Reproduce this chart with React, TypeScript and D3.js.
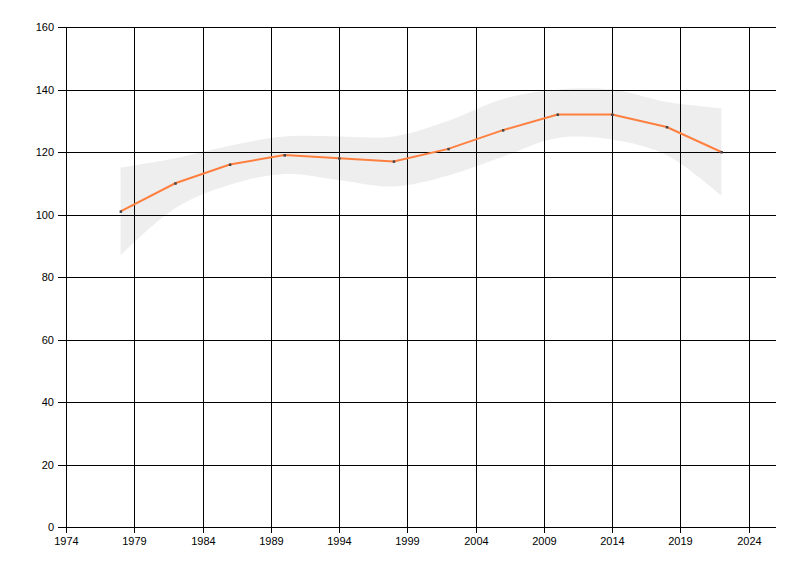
import React from "react";
import * as d3 from "d3";

const years = [1978, 1982, 1986, 1990, 1994, 1998, 2002, 2006, 2010, 2014, 2018, 2022];
const values = [101, 110, 116, 119, 118, 117, 121, 127, 132, 132, 128, 120];
const upper = [115, 118, 122, 125, 125, 125, 130, 137, 140, 140, 136, 134];
const lower = [87, 102, 109.5, 113, 111, 109, 112.5, 118.5, 124.5, 124, 119, 106];
const xTicks = [1974, 1979, 1984, 1989, 1994, 1999, 2004, 2009, 2014, 2019, 2024];
const yTicks = [0, 20, 40, 60, 80, 100, 120, 140, 160];

const W = 800, H = 576;
const L = 66, R = 776, T = 27, B = 527;

export default function App() {
  const x = d3.scaleLinear().domain([1974, 2026]).range([L, R]);
  const y = d3.scaleLinear().domain([0, 160]).range([B, T]);
  const idx = years.map((_, i) => i);
  const band = d3
    .area<number>()
    .x((i) => x(years[i]))
    .y0((i) => y(lower[i]))
    .y1((i) => y(upper[i]))
    .curve(d3.curveCatmullRom.alpha(0.5))(idx);
  const line = d3
    .line<number>()
    .x((i) => x(years[i]))
    .y((i) => y(values[i]))(idx);
  const font = "'Liberation Sans', Arial, sans-serif";
  return (
    <svg width={W} height={H} style={{ position: "absolute", left: 0, top: 0, background: "#fff" }}>
      <path d={band || ""} fill="#eeeeee" />
      {yTicks.map((t) => (
        <g key={"y" + t}>
          <line x1={L - 8} x2={R} y1={Math.round(y(t)) + 0.5} y2={Math.round(y(t)) + 0.5} stroke="#000" strokeWidth={1} />
          <text x={54} y={Math.round(y(t)) + 4} textAnchor="end" fontSize={11} fontFamily={font} fill="#000">
            {t}
          </text>
        </g>
      ))}
      {xTicks.map((t) => (
        <g key={"x" + t}>
          <line x1={Math.round(x(t)) + 0.5} x2={Math.round(x(t)) + 0.5} y1={T} y2={B + 6} stroke="#000" strokeWidth={1} />
          <text x={Math.round(x(t)) + 0.5} y={545} textAnchor="middle" fontSize={11} fontFamily={font} fill="#000">
            {t}
          </text>
        </g>
      ))}
      <path d={line || ""} fill="none" stroke="#ff7f3f" strokeWidth={2} />
      {years.map((yr, i) => (
        <rect key={yr} x={x(yr) - 1} y={y(values[i]) - 1} width={2.5} height={2.5} fill="#444" />
      ))}
    </svg>
  );
}
